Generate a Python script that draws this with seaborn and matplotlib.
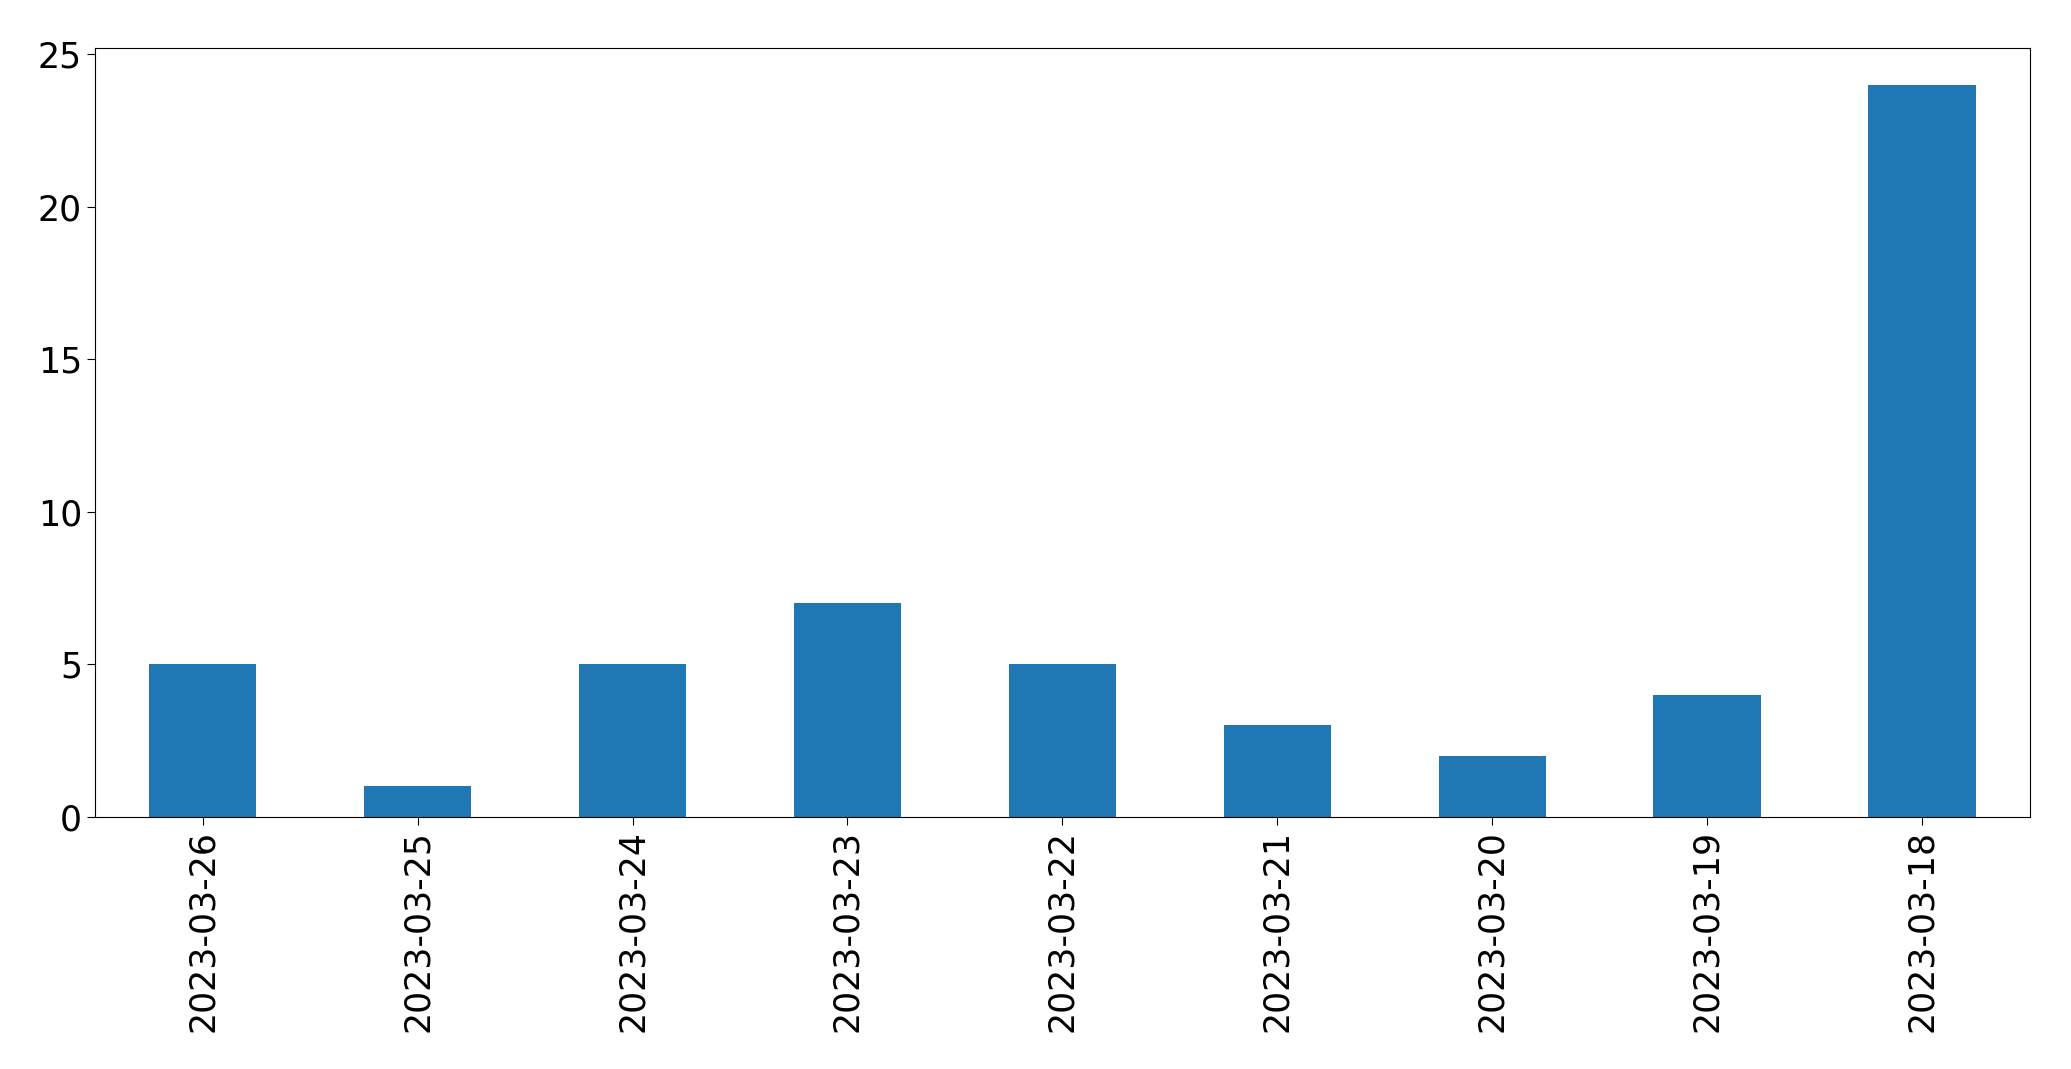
import matplotlib
matplotlib.use("Agg")
import matplotlib.pyplot as plt
import seaborn as sns
import pandas as pd

dates = ["2023-03-26", "2023-03-25", "2023-03-24", "2023-03-23", "2023-03-22",
         "2023-03-21", "2023-03-20", "2023-03-19", "2023-03-18"]
counts = [5, 1, 5, 7, 5, 3, 2, 4, 24]

df = pd.DataFrame({"date": dates, "count": counts})

sns.set_style("ticks", {"axes.edgecolor": "black", "text.color": "black",
                        "xtick.color": "black", "ytick.color": "black"})
plt.rcParams["font.family"] = ["DejaVu Sans"]

fig, ax = plt.subplots(figsize=(20.71, 10.69), dpi=100)
sns.barplot(data=df, x="date", y="count", color="#1f77b4", saturation=1,
            width=0.5, linewidth=0, ax=ax)

ax.set_xlim(-0.5, len(dates) - 0.5)
ax.set_ylim(0, 25.2)
ax.set_xlabel("")
ax.set_ylabel("")
ax.tick_params(axis="both", labelsize=25, length=6, colors="black")
plt.setp(ax.get_xticklabels(), rotation=90)
for s in ax.spines.values():
    s.set_visible(True)
    s.set_color("black")

plt.subplots_adjust(left=0.046, right=0.980, top=0.955, bottom=0.236)
plt.savefig("out.png")
